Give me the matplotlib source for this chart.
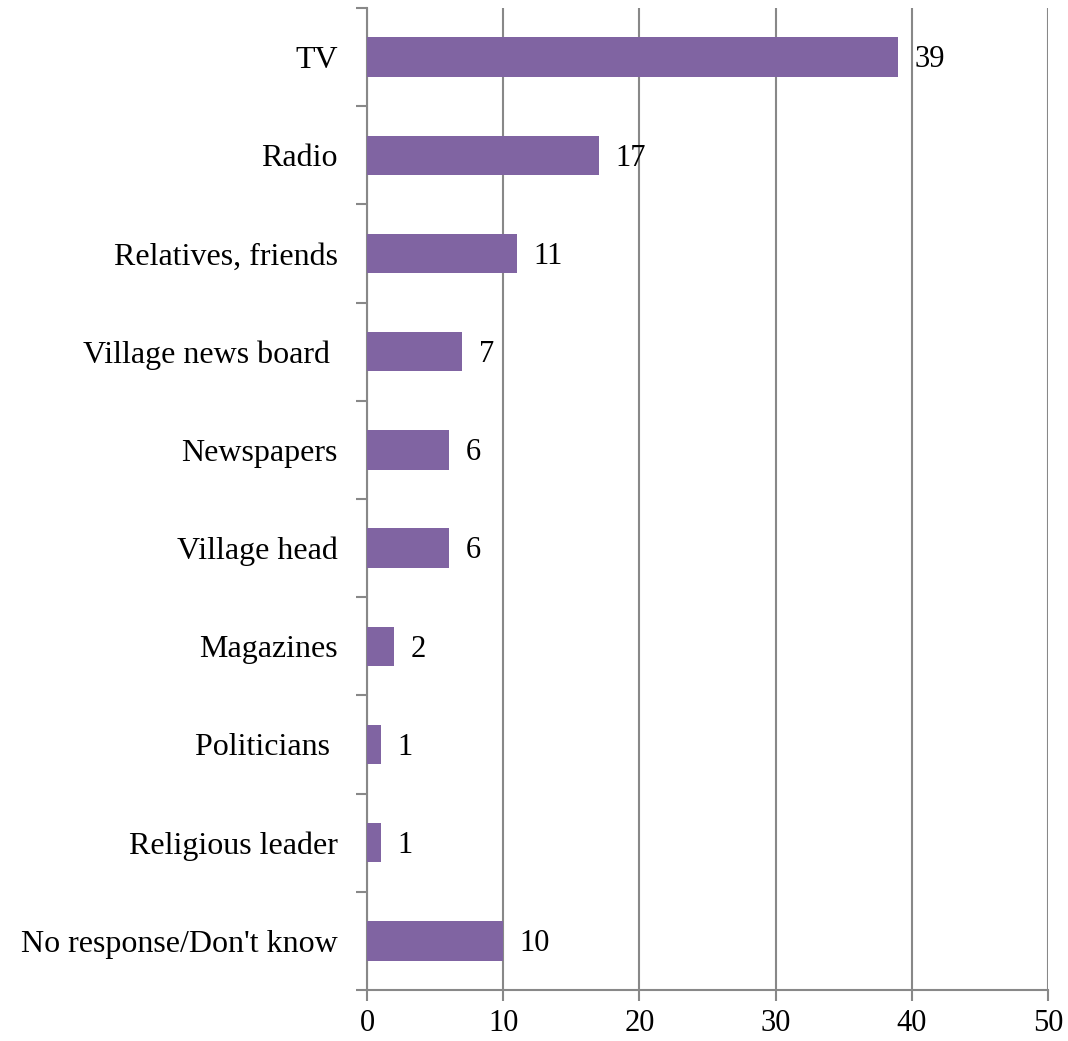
import numpy as np
import matplotlib.pyplot as plt

categories = ["TV", "Radio", "Relatives, friends", "Village news board ",
              "Newspapers", "Village head", "Magazines", "Politicians ",
              "Religious leader", "No response/Don't know"]
values = [39, 17, 11, 7, 6, 6, 2, 1, 1, 10]

plt.rcParams['font.family'] = ['Liberation Serif', 'DejaVu Serif']

fig = plt.figure(figsize=(10.68, 10.41), dpi=100)
ax = fig.add_axes([367 / 1068, 1 - 990 / 1041, (1048 - 367) / 1068, (990 - 8) / 1041])

y = np.arange(len(categories))
ax.barh(y, values, height=0.4, color="#8064A2", zorder=3)
for yi, v in zip(y, values):
    ax.annotate(str(v), (v, yi), xytext=(12, -2), textcoords="offset points",
                va="center", ha="left", fontsize=22)

ax.set_xlim(0, 50)
ax.set_ylim(len(categories) - 0.5, -0.5)
ax.set_xticks(np.arange(0, 51, 10))
ax.set_yticks(y)
ax.set_yticklabels(categories)
ax.set_yticks(np.arange(-0.5, len(categories)), minor=True)
ax.tick_params(axis="y", which="major", length=0, pad=21, labelsize=23)
ax.tick_params(axis="y", which="minor", length=8, width=1.5, color="#888888")
ax.tick_params(axis="x", length=8, width=1.5, color="#888888", labelsize=22, pad=6)

ax.grid(axis="x", color="#888888", linewidth=1.5, zorder=0)
for s in ["top", "right"]:
    ax.spines[s].set_visible(False)
for s in ["left", "bottom"]:
    ax.spines[s].set_color("#888888")
    ax.spines[s].set_linewidth(1.5)

fig.savefig("out.png", dpi=100)
